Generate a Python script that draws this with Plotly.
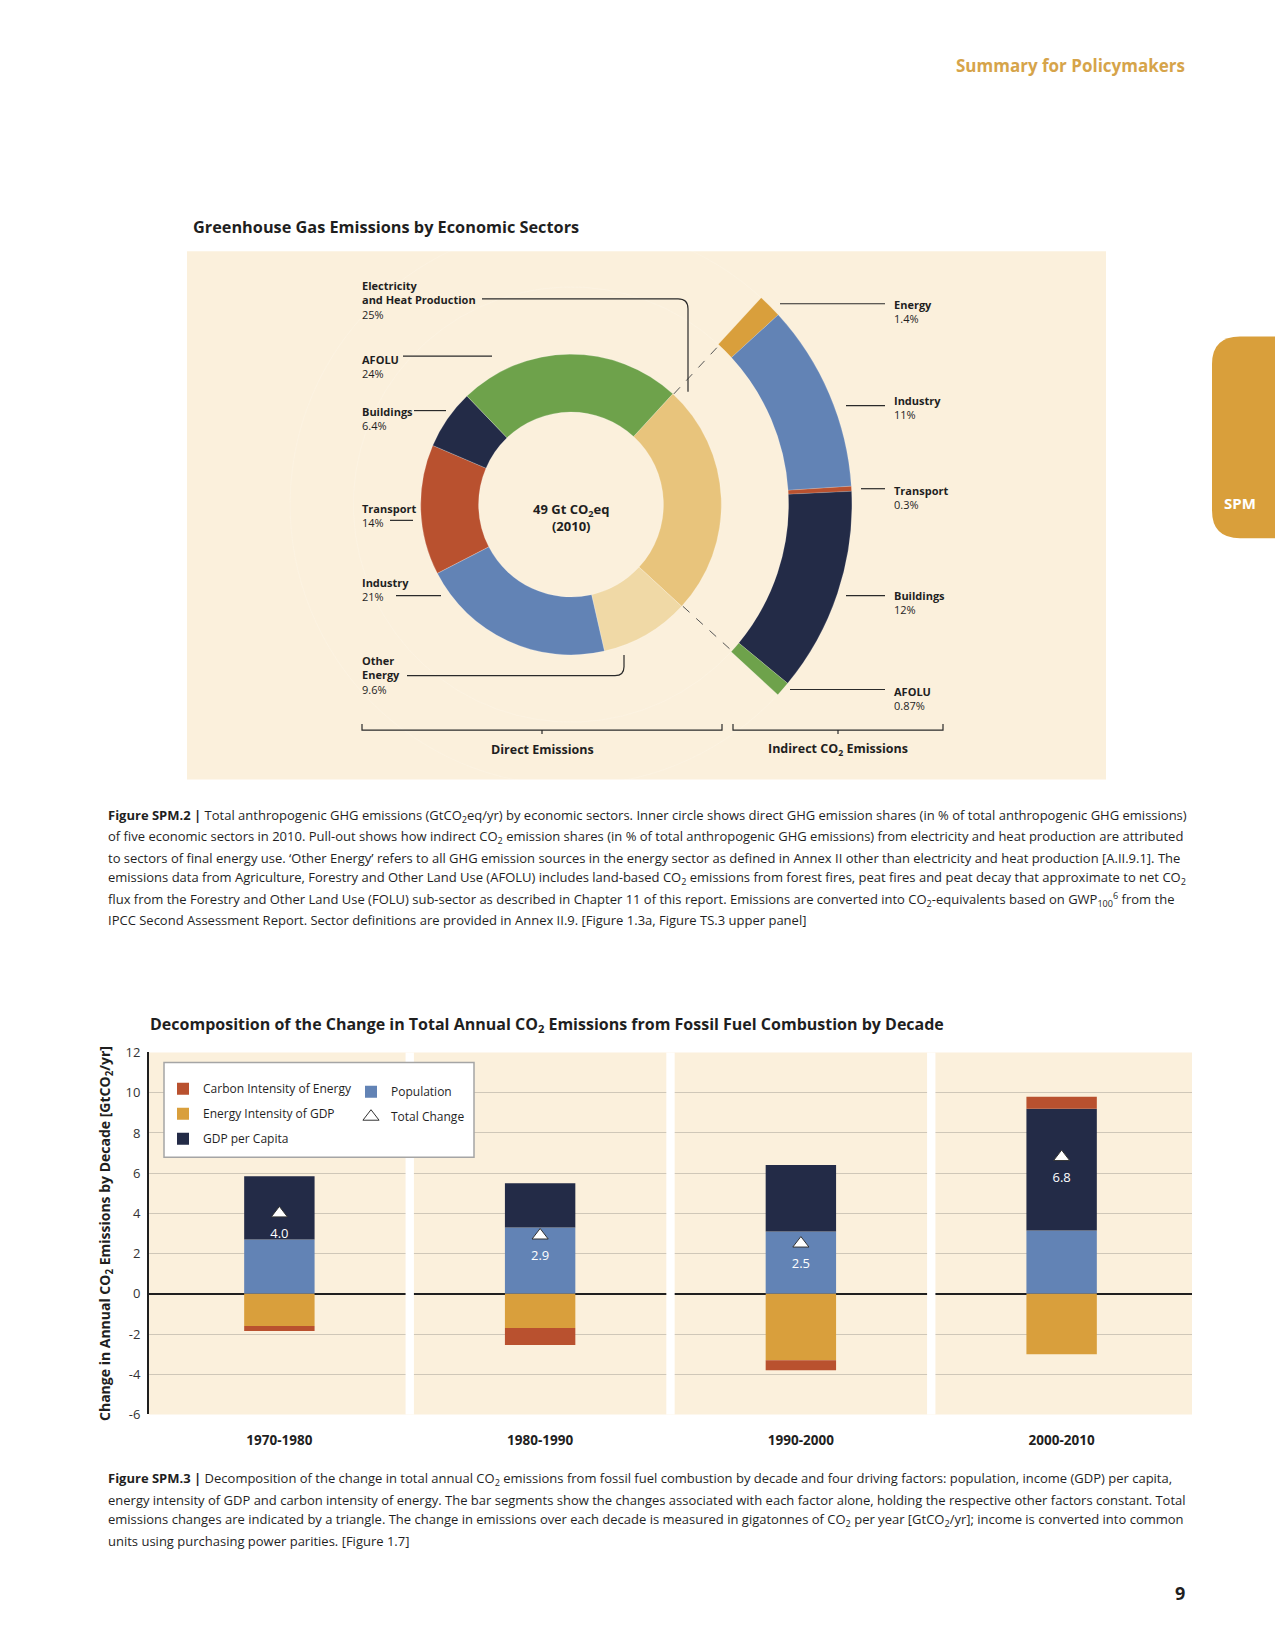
import math
import plotly.graph_objects as go

W, H = 1275, 1650
FONT = "Open Sans, sans-serif"
DARK = "#1f1f1f"


def px(x):
    return x / W


def py(y):
    return 1 - y / H


# ---------------- Data: direct emissions (inner donut) ----------------
direct_sectors = ["Electricity and Heat Production", "Other Energy", "Industry",
                  "Transport", "Buildings", "AFOLU"]
direct_labels = ["Electricity<br>and Heat Production", "Other<br>Energy", "Industry",
                 "Transport", "Buildings", "AFOLU"]
direct_shares = [25, 9.6, 21, 14, 6.4, 24]
direct_colors = ["#e8c47c", "#f0d9a6", "#6283b5", "#b9512f", "#232b47", "#6ea24b"]

# ---------------- Data: indirect CO2 emissions (pull-out arc) ----------------
indirect_sectors = ["Energy", "Industry", "Transport", "Buildings", "AFOLU"]
indirect_shares = [1.4, 11, 0.3, 12, 0.87]
indirect_colors = ["#d99f3c", "#6283b5", "#b9512f", "#232b47", "#6ea24b"]

# ---------------- Data: decomposition bar chart ----------------
decades = ["1970-1980", "1980-1990", "1990-2000", "2000-2010"]
population = [2.7, 3.3, 3.1, 3.15]
gdp_per_capita = [3.15, 2.2, 3.3, 6.05]
energy_intensity = [-1.6, -1.7, -3.3, -3.0]
carbon_intensity = [-0.25, -0.85, -0.5, 0.6]
total_change = [4.0, 2.9, 2.5, 6.8]
y_ticks = [-6, -4, -2, 0, 2, 4, 6, 8, 10, 12]

factor_names = ["Population", "GDP per Capita", "Energy Intensity of GDP", "Carbon Intensity of Energy"]
factor_values = [population, gdp_per_capita, energy_intensity, carbon_intensity]
factor_colors = ["#6283b5", "#232b47", "#d99f3c", "#b9512f"]
factor_legend = ["legend2", "legend", "legend", "legend"]
factor_rank = [1, 3, 2, 1]

# ---------------- Geometry (layout only) ----------------
cx, cy = 571, 501
r_inner_pie = 152
hole_inner = 0.615
r_ring = 284
r_ring_in = 220
rot = 42.6

fig = go.Figure()

fig.add_trace(go.Pie(
    values=direct_shares, labels=direct_sectors, sort=False, direction="clockwise",
    rotation=rot, hole=hole_inner, textinfo="none", showlegend=False,
    marker=dict(colors=direct_colors, line=dict(color="rgba(255,255,255,0.35)", width=0.6)),
    domain=dict(x=[px(cx - r_inner_pie), px(cx + r_inner_pie)],
                y=[py(cy + r_inner_pie), py(cy - r_inner_pie)]),
))

elec_angle = 360 * direct_shares[0] / sum(direct_shares)
filler = sum(indirect_shares) * (360 / elec_angle - 1)
fig.add_trace(go.Pie(
    values=indirect_shares + [filler], labels=indirect_sectors + [""], sort=False,
    direction="clockwise", rotation=rot, hole=r_ring_in / r_ring, textinfo="none",
    showlegend=False, hoverinfo="skip",
    marker=dict(colors=indirect_colors + ["rgba(0,0,0,0)"],
                line=dict(color="rgba(255,255,255,0.3)", width=0.5)),
    domain=dict(x=[px(cx - r_ring), px(cx + r_ring)], y=[py(cy + r_ring), py(cy - r_ring)]),
))

xpos = list(range(len(decades)))
for name, vals, col, lg, rk in zip(factor_names, factor_values, factor_colors, factor_legend, factor_rank):
    fig.add_trace(go.Bar(
        x=xpos, y=vals, name=name, marker=dict(color=col, line=dict(width=0)),
        width=0.27, legend=lg, legendrank=rk, legendgroup=name,
    ))

fig.add_trace(go.Scatter(
    x=xpos, y=total_change, mode="markers", name="Total Change",
    marker=dict(symbol="triangle-up", size=14, color="white", line=dict(color="#333333", width=1)),
    legend="legend2", legendrank=2, legendgroup="Total Change",
))
fig.add_trace(go.Scatter(
    x=xpos, y=total_change, mode="markers+text", showlegend=False, hoverinfo="skip",
    marker=dict(size=22, opacity=0), text=[f"{v:.1f}" for v in total_change],
    textposition="bottom center", textfont=dict(color="white", size=13, family=FONT),
))

shapes = []
annotations = []


def note(x, y, text, size, color=DARK, xanchor="left", yanchor="middle", align="left"):
    annotations.append(dict(x=px(x), y=py(y), xref="paper", yref="paper", showarrow=False,
                            xanchor=xanchor, yanchor=yanchor, align=align, text=text,
                            font=dict(size=size, color=color, family=FONT)))


# Cream panel behind donut
shapes.append(dict(type="rect", xref="paper", yref="paper", x0=px(187), x1=px(1106),
                   y0=py(779), y1=py(245), fillcolor="#fbf0dc", line=dict(width=0), layer="below"))

# SPM tab
shapes.append(dict(type="path", xref="paper", yref="paper",
                   path=(f"M {px(1275)},{py(331)} L {px(1240)},{py(331)} "
                         f"Q {px(1212)},{py(331)} {px(1212)},{py(359)} L {px(1212)},{py(507)} "
                         f"Q {px(1212)},{py(535)} {px(1240)},{py(535)} L {px(1275)},{py(535)} Z"),
                   fillcolor="#d99f3b", line=dict(width=0), layer="below"))

# Dashed connectors between the electricity slice and the pull-out arc
for ang in (rot, rot + elec_angle):
    a = math.radians(ang)
    x0 = cx + r_inner_pie * math.sin(a)
    y0 = cy - r_inner_pie * math.cos(a)
    x1 = cx + r_ring_in * math.sin(a)
    y1 = cy - r_ring_in * math.cos(a)
    shapes.append(dict(type="line", xref="paper", yref="paper", x0=px(x0), y0=py(y0),
                       x1=px(x1), y1=py(y1), line=dict(color="#555555", width=1, dash="dash")))

LC = dict(color="#2a2a2a", width=1.2)


def hline(x0, x1, y):
    shapes.append(dict(type="line", xref="paper", yref="paper", x0=px(x0), x1=px(x1),
                       y0=py(y), y1=py(y), line=LC))


# Leader lines left
shapes.append(dict(type="path", xref="paper", yref="paper", line=LC,
                   path=(f"M {px(482)},{py(293)} L {px(678)},{py(293)} "
                         f"Q {px(688)},{py(293)} {px(688)},{py(303)} L {px(688)},{py(387)}")))
hline(403, 492, 351)
hline(414, 446, 406)
hline(390, 413, 517)
hline(396, 441, 593)
shapes.append(dict(type="path", xref="paper", yref="paper", line=LC,
                   path=(f"M {px(407)},{py(674)} L {px(615)},{py(674)} "
                         f"Q {px(624)},{py(674)} {px(624)},{py(665)} L {px(624)},{py(653)}")))
# Leader lines right
hline(780, 885, 298)
hline(846, 885, 401)
hline(861, 885, 485)
hline(846, 885, 593)
hline(790, 885, 688)

# Brackets
for (bx0, bx1) in [(362, 722), (733, 943)]:
    shapes.append(dict(type="path", xref="paper", yref="paper", line=LC,
                       path=(f"M {px(bx0)},{py(723)} L {px(bx0)},{py(729)} L {px(bx1)},{py(729)} "
                             f"L {px(bx1)},{py(723)} M {px((bx0 + bx1) / 2)},{py(729)} "
                             f"L {px((bx0 + bx1) / 2)},{py(733)}")))

# Sector labels (built from the data arrays)
left_label_y = [294, 673, 587, 512, 414, 361]
for lab, share, yy in zip(direct_labels, direct_shares, left_label_y):
    note(360, yy, f"<b>{lab}</b><br>{share:g}%", 11)
right_label_y = [306, 403, 494, 600, 697]
for lab, share, yy in zip(indirect_sectors, indirect_shares, right_label_y):
    note(892, yy, f"<b>{lab}</b><br>{share:g}%", 11)

note(cx, 514, "<b>49 Gt CO<sub>2</sub>eq<br>(2010)</b>", 13, xanchor="center", align="center")
note(542, 749, "<b>Direct Emissions</b>", 12.5, xanchor="center")
note(838, 749, "<b>Indirect CO<sub>2</sub> Emissions</b>", 12.5, xanchor="center")

# Page texts
note(1187, 57, "<b>Summary for Policymakers</b>", 17, color="#d6a44a", xanchor="right")
note(1240, 499, "<b>SPM</b>", 15, color="white", xanchor="center")
note(191, 220, "<b>Greenhouse Gas Emissions by Economic Sectors</b>", 16.3)
note(148, 1027, "<b>Decomposition of the Change in Total Annual CO<sub>2</sub> Emissions from Fossil Fuel Combustion by Decade</b>", 16)
note(1187, 1601, "<b>9</b>", 18, xanchor="right")

cap2 = [
    "<b>Figure SPM.2 |</b> Total anthropogenic GHG emissions (GtCO<sub>2</sub>eq/yr) by economic sectors. Inner circle shows direct GHG emission shares (in % of total anthropogenic GHG emissions)",
    "of five economic sectors in 2010. Pull-out shows how indirect CO<sub>2</sub> emission shares (in % of total anthropogenic GHG emissions) from electricity and heat production are attributed",
    "to sectors of final energy use. ‘Other Energy’ refers to all GHG emission sources in the energy sector as defined in Annex II other than electricity and heat production [A.II.9.1]. The",
    "emissions data from Agriculture, Forestry and Other Land Use (AFOLU) includes land-based CO<sub>2</sub> emissions from forest fires, peat fires and peat decay that approximate to net CO<sub>2</sub>",
    "flux from the Forestry and Other Land Use (FOLU) sub-sector as described in Chapter 11 of this report. Emissions are converted into CO<sub>2</sub>-equivalents based on GWP<sub>100</sub><sup>6</sup> from the",
    "IPCC Second Assessment Report. Sector definitions are provided in Annex II.9. [Figure 1.3a, Figure TS.3 upper panel]",
]
for i, line in enumerate(cap2):
    note(106, 816 + 21 * i, line, 13)
cap3 = [
    "<b>Figure SPM.3 |</b> Decomposition of the change in total annual CO<sub>2</sub> emissions from fossil fuel combustion by decade and four driving factors: population, income (GDP) per capita,",
    "energy intensity of GDP and carbon intensity of energy. The bar segments show the changes associated with each factor alone, holding the respective other factors constant. Total",
    "emissions changes are indicated by a triangle. The change in emissions over each decade is measured in gigatonnes of CO<sub>2</sub> per year [GtCO<sub>2</sub>/yr]; income is converted into common",
    "units using purchasing power parities. [Figure 1.7]",
]
for i, line in enumerate(cap3):
    note(106, 1486 + 21 * i, line, 13)

# White gaps separating decade panels
for i in xpos[:-1]:
    shapes.append(dict(type="rect", xref="x", yref="paper", x0=i + 0.5 - 0.016, x1=i + 0.5 + 0.016,
                       y0=py(1421), y1=py(1055), fillcolor="white", line=dict(width=0), layer="above"))

# Legend frame
shapes.append(dict(type="rect", xref="paper", yref="paper", x0=px(164), x1=px(474),
                   y0=py(1161), y1=py(1065), fillcolor="white",
                   line=dict(color="#a5a5a5", width=1.5), layer="above"))

fig.update_layout(
    width=W, height=H, margin=dict(l=0, r=0, t=0, b=0),
    paper_bgcolor="white", plot_bgcolor="#fbf0dc",
    font=dict(family=FONT, color=DARK),
    barmode="relative", showlegend=True,
    shapes=shapes, annotations=annotations,
    xaxis=dict(domain=[px(149), px(1192)], range=[-0.5, len(decades) - 0.5],
               tickvals=xpos, ticktext=[f"<b>{d}</b>" for d in decades],
               showgrid=False, zeroline=False, showline=False, ticks="",
               tickfont=dict(size=13.5, color=DARK), ticklabelstandoff=16, fixedrange=True),
    yaxis=dict(domain=[py(1421), py(1055)], range=[-6, 12],
               tickvals=y_ticks, ticktext=[str(v) for v in y_ticks],
               gridcolor="#cfc7b8", gridwidth=1, zeroline=True, zerolinecolor=DARK,
               zerolinewidth=2, showline=True, linecolor=DARK, linewidth=2, ticks="",
               tickfont=dict(size=13, color="#333333"), fixedrange=True, ticklabelstandoff=4,
               title=dict(text="<b>Change in Annual CO<sub>2</sub> Emissions by Decade [GtCO<sub>2</sub>/yr]</b>",
                          font=dict(size=14, color=DARK), standoff=12)),
    legend=dict(x=px(163), y=py(1077), xanchor="left", yanchor="top", bgcolor="rgba(0,0,0,0)",
                font=dict(size=12, color=DARK), tracegroupgap=6, itemclick=False, itemdoubleclick=False),
    legend2=dict(x=px(351), y=py(1080), xanchor="left", yanchor="top", bgcolor="rgba(0,0,0,0)",
                 font=dict(size=12, color=DARK), tracegroupgap=6, itemclick=False, itemdoubleclick=False),
)

fig.write_html("out.html", config={"displayModeBar": False},
               post_script="document.body.style.margin='0';")
